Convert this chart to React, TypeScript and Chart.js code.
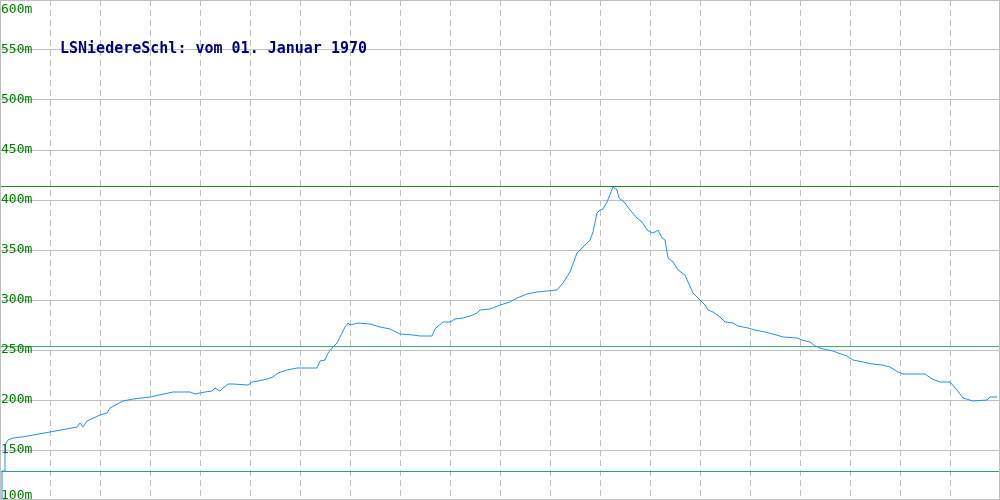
import React, { useEffect, useRef } from "react";
import { Chart, registerables } from "chart.js";

Chart.register(...registerables);

const distance = [
  2, 2, 5, 5, 8, 13, 22, 50, 77, 80, 83, 87, 100, 107, 110, 123, 133, 150, 173, 190,
  195, 200, 205, 212, 215, 220, 223, 228, 233, 248, 252, 258, 267, 273, 278, 287, 297, 317, 320, 325,
  328, 333, 337, 342, 345, 348, 350, 358, 370, 380, 390, 400, 413, 420, 432, 435, 437, 443, 450, 455,
  463, 470, 477, 480, 490, 500, 510, 517, 527, 537, 547, 557, 563, 570, 577, 582, 590, 593, 597, 600,
  603, 607, 613, 617, 619, 625, 630, 637, 642, 647, 652, 655, 658, 662, 665, 668, 673, 678, 685, 688,
  693, 700, 705, 708, 713, 720, 725, 733, 738, 748, 755, 765, 773, 783, 797, 802, 810, 815, 823, 833,
  838, 847, 853, 863, 872, 882, 890, 898, 903, 925, 932, 940, 950, 957, 963, 973, 987, 990, 997,
];

const elevation = [
  100, 129, 129, 155, 160, 162, 163, 168, 173, 177, 173, 179, 185, 187, 192, 199, 201, 203, 208, 208,
  206, 207, 208, 209, 212, 209, 212, 216, 216, 215, 218, 219, 221, 223, 227, 230, 232, 232, 239, 240,
  247, 253, 257, 267, 273, 277, 275, 277, 276, 273, 271, 266, 265, 264, 264, 271, 273, 278, 278, 281,
  282, 284, 287, 290, 291, 295, 298, 302, 306, 308, 309, 310, 317, 328, 347, 352, 360, 368, 387, 390,
  391, 398, 413, 410, 402, 397, 390, 382, 378, 370, 367, 368, 370, 362, 360, 342, 338, 330, 325, 318,
  307, 300, 295, 290, 288, 283, 278, 277, 274, 272, 270, 268, 266, 263, 262, 260, 258, 254, 251, 249,
  247, 244, 240, 238, 236, 235, 233, 228, 226, 226, 221, 218, 218, 210, 202, 199, 200, 203, 203,
];

const yTickValues = [100, 150, 200, 250, 300, 350, 400, 450, 500, 550, 600];
const yTickLabels = ["100m", "150m", "200m", "250m", "300m", "350m", "400m", "450m", "500m", "550m", "600m"];

const refLevels = [414, 254, 129];
const refColors = ["#228B22", "#3CB371", "#2AA08C"];

const titleText = "LSNiedereSchl: vom 01. Januar 1970";

export default function App() {
  const canvasRef = useRef<HTMLCanvasElement | null>(null);

  useEffect(() => {
    const canvas = canvasRef.current;
    if (!canvas) return;

    const overlay = {
      id: "overlay",
      beforeDatasetsDraw(chart: any) {
        const { ctx, chartArea, scales } = chart;
        ctx.save();
        ctx.lineWidth = 1;
        refLevels.forEach((v, i) => {
          const y = Math.round(scales.y.getPixelForValue(v)) + 0.5;
          ctx.strokeStyle = refColors[i];
          ctx.beginPath();
          ctx.moveTo(chartArea.left, y);
          ctx.lineTo(chartArea.right, y);
          ctx.stroke();
        });
        ctx.restore();
      },
      afterDraw(chart: any) {
        const { ctx, scales } = chart;
        const w = chart.width;
        const h = chart.height;
        ctx.save();
        // frame
        ctx.strokeStyle = "#c0c0c0";
        ctx.lineWidth = 1;
        ctx.strokeRect(0.5, 0.5, w - 1, h - 1);
        // y labels
        ctx.font = "13px 'DejaVu Sans Mono'";
        ctx.fillStyle = "#008000";
        ctx.textAlign = "left";
        ctx.textBaseline = "alphabetic";
        yTickValues.forEach((v, i) => {
          const py = scales.y.getPixelForValue(v);
          const by = Math.min(Math.max(py + 3, 12.5), h - 1);
          ctx.fillText(yTickLabels[i], 1, by);
        });
        // title
        ctx.font = "bold 15px 'DejaVu Sans Mono'";
        ctx.fillStyle = "#000080";
        ctx.fillText(titleText, 60, 53);
        ctx.restore();
      },
    };

    const chart = new Chart(canvas, {
      type: "line",
      data: {
        datasets: [
          {
            data: distance.map((d, i) => ({ x: d, y: elevation[i] })),
            borderColor: "#1E90FF",
            borderWidth: 1,
            pointRadius: 0,
            fill: false,
            tension: 0,
          },
        ],
      },
      options: {
        responsive: false,
        animation: false,
        layout: { padding: 0, autoPadding: false },
        plugins: {
          legend: { display: false },
          tooltip: { enabled: false },
          title: { display: false },
        },
        scales: {
          x: {
            type: "linear",
            min: 0,
            max: 1000,
            ticks: { display: false, stepSize: 50 },
            grid: { color: "#c0c0c0", drawTicks: false, lineWidth: 1 },
            border: { display: false, dash: [6, 4] },
          },
          y: {
            type: "linear",
            min: 100,
            max: 600,
            ticks: { display: false, stepSize: 50 },
            grid: { color: "#c0c0c0", drawTicks: false, lineWidth: 1 },
            border: { display: false },
          },
        },
      },
      plugins: [overlay],
    } as any);

    return () => chart.destroy();
  }, []);

  return (
    <div style={{ position: "absolute", left: 0, top: 0, width: 1000, height: 500, background: "#fff" }}>
      <canvas ref={canvasRef} width={1000} height={500} style={{ display: "block", width: 1000, height: 500 }} />
    </div>
  );
}
